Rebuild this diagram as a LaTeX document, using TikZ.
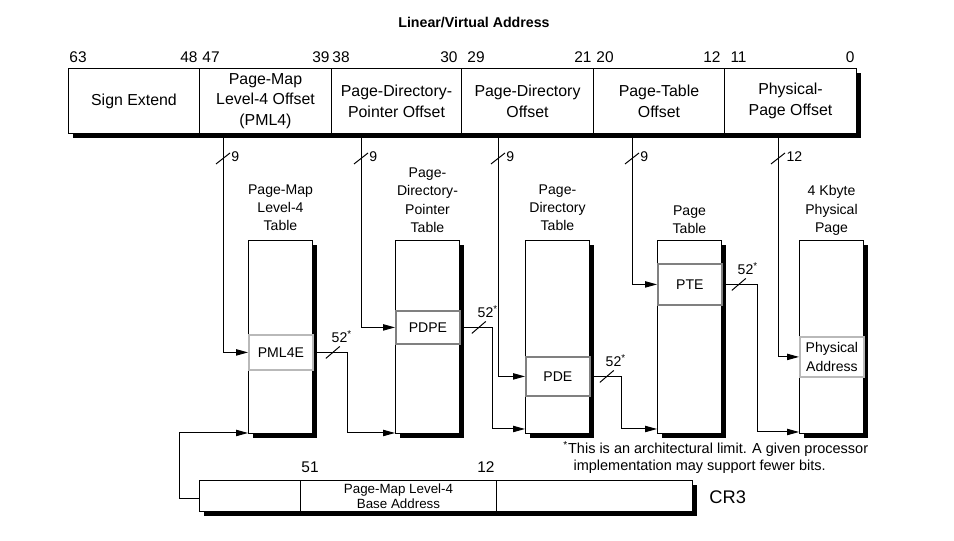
\documentclass[tikz,border=0pt]{standalone}
\usepackage{fontspec}
\setmainfont{Liberation Sans}
\usetikzlibrary{arrows.meta,positioning,calc,shadows}

\newcommand{\pxu}{0.025cm}

\tikzset{
  boxshadow/.style={drop shadow={shadow xshift=0.11cm, shadow yshift=-0.11cm, opacity=1, fill=black}},
  field/.style={draw, fill=white, boxshadow, anchor=north west, inner sep=0pt,
    minimum height=65*\pxu, align=center, font=\fontsize{11.3}{14.8}\selectfont},
  tablebox/.style={draw, fill=white, boxshadow, anchor=north west, inner sep=0pt,
    minimum width=64*\pxu, minimum height=193*\pxu},
  entry/.style={draw=gray, line width=1.3pt, fill=white, anchor=north west, inner sep=0pt,
    minimum width=64*\pxu, align=center, font=\fontsize{10}{14}\selectfont},
  tbltitle/.style={align=center, inner sep=0pt, font=\fontsize{10}{13}\selectfont},
  bitno/.style={inner sep=0pt, font=\fontsize{11}{13}\selectfont},
  note/.style={inner sep=0pt, font=\fontsize{10}{12}\selectfont},
  arr/.style={-{Triangle[length=8.5pt,width=4.5pt]}},
}

\begin{document}
\begin{tikzpicture}[x=\pxu, y=-\pxu, line width=0.7pt]
  \useasboundingbox (0,0) rectangle (954,540);

  \node[font=\bfseries\fontsize{10.1}{12}\selectfont] (heading) at (474,22) {Linear/Virtual Address};

  % linear address fields
  \node[field, minimum width=131*\pxu] (sign) at (68,68) {Sign Extend};
  \node[field, minimum width=132*\pxu] (pml4off) at (199,68) {Page-Map\\Level-4 Offset\\(PML4)};
  \node[field, minimum width=130*\pxu] (pdpoff) at (331,68) {Page-Directory-\\Pointer Offset};
  \node[field, minimum width=132*\pxu] (pdoff) at (461,68) {Page-Directory\\Offset};
  \node[field, minimum width=131*\pxu] (ptoff) at (593,68) {Page-Table\\Offset};
  \node[field, minimum width=132*\pxu] (physoff) at (724,68) {Physical-\\Page Offset};

  \foreach \n/\x/\a in {63/69/west, 48/198/east, 47/202/west, 39/330/east, 38/332/west, 30/458/east,
                        29/467/west, 21/592/east, 20/596/west, 12/721/east, 11/730/west, 0/855/east}
    \node[bitno, anchor=\a] (bit\n) at (\x,57) {\n};

  % tables
  \node[tablebox] (pml4t) at (248,240) {};
  \node[tablebox] (pdpt) at (395,240) {};
  \node[tablebox] (pdt) at (525,240) {};
  \node[tablebox] (ptt) at (657,240) {};
  \node[tablebox] (ppage) at (799,240) {};

  \node[tbltitle, above=6pt of pml4t] (pml4title) {Page-Map\\Level-4\\Table};
  \node[tbltitle, above=5pt of pdpt] (pdptitle) {Page-\\Directory-\\Pointer\\Table};
  \node[tbltitle, above=6pt of pdt] (pdtitle) {Page-\\Directory\\Table};
  \node[tbltitle, above=4pt of ptt] (pttitle) {Page\\Table};
  \node[tbltitle, above=3pt of ppage] (ppagetitle) {4 Kbyte\\Physical\\Page};

  % entries
  \node[entry, draw=gray!55, minimum height=35*\pxu] (pml4e) at (248,334) {PML4E};
  \node[entry, minimum height=33*\pxu] (pdpe) at (395,310) {PDPE};
  \node[entry, minimum height=39*\pxu] (pde) at (525,356) {PDE};
  \node[entry, minimum height=41*\pxu] (pte) at (657,263) {PTE};
  \node[entry, draw=gray!55, minimum height=40*\pxu, font=\fontsize{10}{13}\selectfont] (physaddr) at (799,336) {Physical\\Address};

  % offsets into the tables
  \draw[arr] ($(pml4off.south west)+(24,0)$) |- (pml4e);
  \draw[arr] ($(pdpoff.south west)+(30,0)$) |- (pdpe);
  \draw[arr] ($(pdoff.south west)+(37,0)$) |- (pde);
  \draw[arr] ($(ptoff.south west)+(39,0)$) |- (pte);
  \draw[arr] ($(physoff.south west)+(54,0)$) |- (physaddr);

  \foreach \f/\dx/\n in {pml4off/24/9, pdpoff/30/9, pdoff/37/9, ptoff/39/9, physoff/54/12} {
    \draw ($(\f.south west)+(\dx,25)$) +(-7,5) -- +(7,-6);
    \node[note, anchor=west] (w\f) at ($(\f.south west)+(\dx+8,23)$) {\n};
  }

  % base addresses to the next table
  \draw[arr] (pml4e.east) -- ++(34,0) |- ($(pdpt.south west)+(0,-1)$);
  \draw[arr] (pdpe.east) -- ++(32,0) |- ($(pdt.south west)+(0,-5)$);
  \draw[arr] (pde.east) -- ++(31,0) |- ($(ptt.south west)+(0,-5)$);
  \draw[arr] (pte.east) -- ++(35,0) |- ($(ppage.south west)+(0,-2)$);

  \foreach \e/\dx in {pml4e/19, pdpe/18, pde/16, pte/16} {
    \draw ($(\e.east)+(\dx,0)$) +(-7,6) -- +(7,-6);
    \node[note] (w\e) at ($(\e.east)+(\dx+9,-16)$) {52\textsuperscript{*}};
  }

  % CR3
  \node[field, minimum width=101*\pxu, minimum height=31*\pxu] (cr3a) at (199,480) {};
  \node[field, minimum width=196*\pxu, minimum height=31*\pxu, font=\fontsize{9.5}{10.5}\selectfont] (cr3b) at (300,480) {Page-Map Level-4\\Base Address};
  \node[field, minimum width=196*\pxu, minimum height=31*\pxu] (cr3c) at (496,480) {};
  \node[bitno, anchor=south west] (cr3hi) at ($(cr3b.north west)+(1,-7)$) {51};
  \node[bitno, anchor=south east] (cr3lo) at ($(cr3c.north west)+(-1,-7)$) {12};
  \node[anchor=west, inner sep=0pt, font=\fontsize{13}{15}\selectfont] (cr3name) at ($(cr3c.east)+(16,1)$) {CR3};
  \draw[arr] ($(cr3a.west)+(0,2)$) -- ++(-20,0) |- ($(pml4t.south west)+(0,-1)$);

  \node[anchor=north west, align=left, inner sep=0pt, font=\fontsize{10.3}{12}\selectfont] (fnote) at (563,441)
    {\textsuperscript{*}This is an architectural limit. A given processor\\\hspace*{0.7em}implementation may support fewer bits.};
\end{tikzpicture}
\end{document}
